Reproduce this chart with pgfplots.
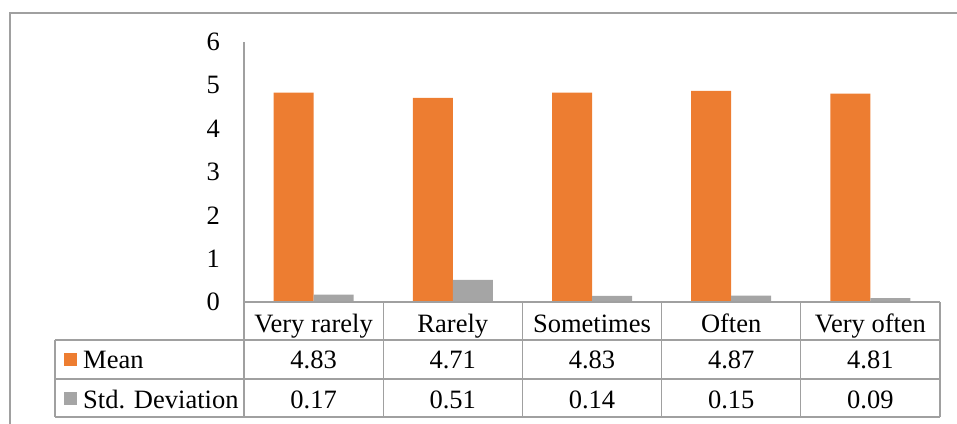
\documentclass[border=0pt]{standalone}
\usepackage{pgfplots}
\pgfplotsset{compat=1.18}
\usepackage{pgfplotstable}
\usepackage{fontspec}
\setmainfont{Liberation Serif}

\definecolor{meancol}{HTML}{ED7D31}
\definecolor{sdcol}{HTML}{A5A5A5}
\definecolor{rulecol}{HTML}{A0A0A0}

% Mean and standard deviation per frequency category
\pgfplotstableread{
idx mean sd
0   4.83 0.17
1   4.71 0.51
2   4.83 0.14
3   4.87 0.15
4   4.81 0.09
}\ratings

\begin{document}
\fontsize{26.5}{31}\selectfont
\begin{tikzpicture}[x=1pt,y=1pt]
\useasboundingbox (-244,-121) rectangle (713,302);
% chart frame
\draw[rulecol, line width=1.2pt] (-234,-130) -- (-234,289) -- (720,289);
\begin{axis}[
  at={(0,0)}, anchor=south west,
  scale only axis, width=696pt, height=260pt,
  ybar=0pt, bar width=40pt,
  xmin=-0.5, xmax=4.5, ymin=0, ymax=6,
  axis lines=left,
  x axis line style={draw=none},
  y axis line style={-, rulecol, line width=1.2pt},
  xtick=data,
  xticklabels={Very rarely,Rarely,Sometimes,Often,Very often},
  ytick={0,1,2,3,4,5,6},
  tick style={draw=none},
  /pgf/number format/assume math mode=true,
  yticklabel style={anchor=east, xshift=-13pt},
  xticklabel style={anchor=base, yshift=-28pt},
  clip=false,
]
\addplot[fill=meancol, draw=none] table[x=idx, y=mean]{\ratings};
\addplot[fill=sdcol, draw=none] table[x=idx, y=sd]{\ratings};
\end{axis}
% data table grid
\begin{scope}[rulecol, line width=1.2pt]
  \draw (0,0) -- (696,0);
  \draw (-189,-38) -- (696,-38);
  \draw (-189,-77) -- (696,-77);
  \draw (-189,-115) -- (696,-115);
  \draw (-189,-38) -- (-189,-115);
  \foreach \k in {0,1,2,3,4,5} {
    \draw ({139.2*\k},0) -- ({139.2*\k},-115);
  }
\end{scope}
% series keys
\fill[meancol] (-180,-64) rectangle (-167,-51);
\node[anchor=base west, inner sep=0] at (-161,-66) {Mean};
\fill[sdcol] (-180,-102.5) rectangle (-167,-89.5);
\node[anchor=base west, inner sep=0] at (-161,-106) {Std. Deviation};
% values
\foreach \i in {0,...,4} {
  \pgfplotstablegetelem{\i}{mean}\of\ratings
  \node[anchor=base, inner sep=0] at ({69.6+139.2*\i},-66) {\pgfplotsretval};
  \pgfplotstablegetelem{\i}{sd}\of\ratings
  \node[anchor=base, inner sep=0] at ({69.6+139.2*\i},-106) {\pgfplotsretval};
}
\end{tikzpicture}
\end{document}
